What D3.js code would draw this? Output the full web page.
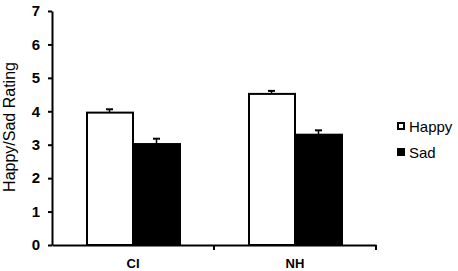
<!DOCTYPE html>
<html><head><meta charset="utf-8">
<script src="https://cdn.jsdelivr.net/npm/d3@7"></script>
<style>body{margin:0;background:#fff}svg{display:block}</style>
</head><body>
<svg id="c" width="458" height="271"></svg>
<script>
const categories = ["CI", "NH"];
const seriesNames = ["Happy", "Sad"];
const happyValues = [3.96, 4.52];
const sadValues = [3.02, 3.30];
const happyErr = [0.10, 0.09];
const sadErr = [0.16, 0.13];
const yTicks = [0, 1, 2, 3, 4, 5, 6, 7];
const colors = {Happy: "#ffffff", Sad: "#000000"};

const svg = d3.select("#c");
const font = "Liberation Sans, Arial, sans-serif";
const x0 = 52, x1 = 376, yTop = 11, yBot = 245;

const x = d3.scaleBand().domain(categories).range([x0, x1]).paddingInner(0).paddingOuter(0);
const xs = d3.scaleBand().domain(seriesNames).range([0, 94]);
const y = d3.scaleLinear().domain([0, 7]).range([yBot, yTop]);

const data = categories.map((c, i) => ({
  cat: c,
  vals: [
    {s: "Happy", v: happyValues[i], e: happyErr[i]},
    {s: "Sad", v: sadValues[i], e: sadErr[i]}
  ]
}));

const g = svg.append("g");
const groups = g.selectAll("g.cat").data(data).join("g")
  .attr("transform", d => `translate(${x(d.cat) + (x.bandwidth() - 94) / 2},0)`);

groups.selectAll("g.err").data(d => d.vals).join("g").each(function(d) {
  const cx = xs(d.s) + xs.bandwidth() / 2;
  const gg = d3.select(this);
  gg.append("line").attr("x1", cx).attr("x2", cx).attr("y1", y(d.v)).attr("y2", y(d.v + d.e))
    .attr("stroke", "#000").attr("stroke-width", 1.5);
  gg.append("line").attr("x1", cx - 3.5).attr("x2", cx + 3.5).attr("y1", y(d.v + d.e)).attr("y2", y(d.v + d.e))
    .attr("stroke", "#000").attr("stroke-width", 2);
});

groups.selectAll("rect").data(d => d.vals).join("rect")
  .attr("x", d => xs(d.s) + 1)
  .attr("width", xs.bandwidth() - 1)
  .attr("y", d => y(d.v))
  .attr("height", d => y(0) - y(d.v))
  .attr("fill", d => colors[d.s])
  .attr("stroke", "#000").attr("stroke-width", 2);

// y axis
const yAxis = svg.append("g").attr("transform", `translate(${x0},0)`)
  .call(d3.axisLeft(y).tickValues(yTicks).tickFormat(d3.format("d")).tickSize(4).tickSizeOuter(0).tickPadding(8));
yAxis.select(".domain").attr("stroke", "#000").attr("stroke-width", 2);
yAxis.selectAll(".tick line").attr("stroke", "#000").attr("stroke-width", 2);
yAxis.selectAll(".tick text").attr("font-family", font).attr("font-size", 15).attr("font-weight", "bold").attr("fill", "#000");

// x axis
const xAxis = svg.append("g").attr("transform", `translate(0,${yBot})`)
  .call(d3.axisBottom(x).tickSize(0).tickPadding(14));
xAxis.select(".domain").attr("stroke", "#000").attr("stroke-width", 2);
xAxis.selectAll(".tick text").attr("font-family", font).attr("font-size", 13).attr("font-weight", "bold").attr("fill", "#000").attr("dy", "0.71em");
const bounds = categories.map(c => x(c)).concat([x1]).slice(1);
xAxis.selectAll("line.bt").data(bounds).join("line").attr("class", "bt")
  .attr("x1", d => d).attr("x2", d => d).attr("y1", 0).attr("y2", 5)
  .attr("stroke", "#000").attr("stroke-width", 2);

// y title
svg.append("text").attr("transform", `translate(15,${127}) rotate(-90)`)
  .attr("text-anchor", "middle").attr("font-family", font).attr("font-size", 16).attr("fill", "#000")
  .text("Happy/Sad Rating");

// legend
const lg = svg.append("g").attr("transform", "translate(397,0)");
seriesNames.forEach((s, i) => {
  const yy = 122 + i * 26;
  lg.append("rect").attr("x", 1).attr("y", yy + 1).attr("width", 6).attr("height", 6)
    .attr("fill", colors[s]).attr("stroke", "#000").attr("stroke-width", 2);
  lg.append("text").attr("x", 12).attr("y", yy + 10).attr("font-family", font).attr("font-size", 15).attr("fill", "#000").text(s);
});
</script>
</body></html>
